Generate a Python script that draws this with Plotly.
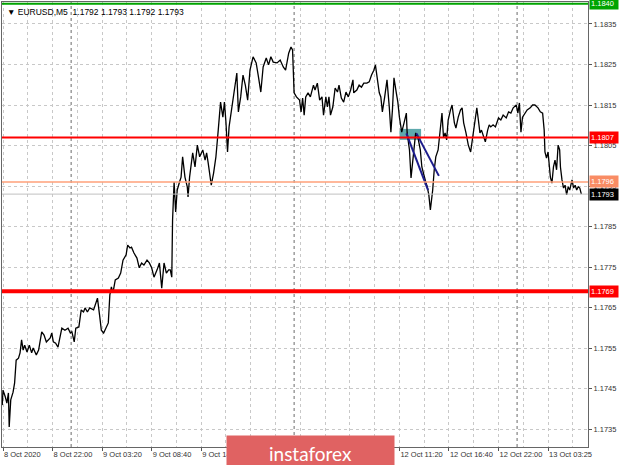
import plotly.graph_objects as go

# ---- data (M5 bar index, close price) ----
bars = [-1, 0, 3, 5, 7, 8, 10, 13, 15, 17, 20, 22, 24, 26, 28, 31, 34, 37, 39, 43, 46, 50, 53, 56, 61, 63, 65, 68, 71, 76,
        80, 84, 87, 89, 92, 94, 98, 101, 104, 106, 109, 112, 117, 122, 125, 127, 130, 133, 136,
        138, 140, 142, 145, 149, 152, 155, 159, 161, 164, 166, 169, 173, 176, 179, 182, 186, 189, 192, 195, 199, 202,
        205, 208, 211, 214, 216, 218, 219, 221, 223, 225, 228, 230, 232, 235, 238, 239, 241, 245, 248, 251, 254, 258,
        261, 263, 265, 269, 272, 275, 278, 281, 284, 286, 288, 290, 292, 295, 297, 300, 302, 304, 307, 310, 313, 316,
        319, 323, 327, 330, 333, 336, 340, 343, 346, 349, 354, 358, 362, 365, 369, 372, 374, 376, 379, 383, 385, 387,
        389, 391, 394, 397, 401, 403, 406, 409, 412, 414, 417, 419, 421, 423, 426, 429, 432, 434, 437, 440, 443, 446,
        449, 452, 453, 457, 460, 463, 466, 470, 473, 476, 479, 481, 483, 486, 488, 490, 493, 496, 499, 501, 503, 505,
        508, 510, 512, 515, 518, 521, 522, 525, 527, 529, 531, 533, 536, 539, 541, 544, 546, 548, 550, 552, 555, 557,
        559, 562, 564, 567, 569, 571, 573, 575, 578, 580, 583, 585, 588, 591, 593, 595, 598, 601, 604, 607, 610, 612,
        614, 616, 618, 621, 623, 626, 628, 630, 633, 636, 640, 643, 646, 650, 653, 656, 659, 663, 665, 667, 669, 671,
        674, 677, 681, 684, 687, 691, 694, 697, 699, 700, 702, 704, 707, 709, 711, 713, 715, 717, 719, 720, 722, 724,
        726, 728, 730, 732, 735, 737, 739, 741, 743, 745, 747]
closes = [1.17409, 1.17446, 1.17429, 1.17414, 1.17439, 1.17355, 1.17422, 1.17441, 1.17464, 1.17520, 1.17525, 1.17538,
          1.17570, 1.17545, 1.17557, 1.17540, 1.17557, 1.17538, 1.17550, 1.17533, 1.17545, 1.17590, 1.17582, 1.17565,
          1.17575, 1.17587, 1.17565, 1.17562, 1.17552, 1.17599, 1.17594, 1.17599, 1.17587, 1.17590, 1.17565, 1.17599,
          1.17602, 1.17644, 1.17639, 1.17649, 1.17639, 1.17649, 1.17644, 1.17673, 1.17627, 1.17594, 1.17587, 1.17599,
          1.17612,
          1.17681, 1.17701, 1.17686, 1.17718, 1.17723, 1.17735, 1.17767, 1.17780, 1.17804, 1.17797, 1.17799, 1.17785,
          1.17772, 1.17748, 1.17760, 1.17755, 1.17767, 1.17760, 1.17748, 1.17725, 1.17743, 1.17760, 1.17698, 1.17760,
          1.17735, 1.17743, 1.17743, 1.17725, 1.17866, 1.17960, 1.17886, 1.17940, 1.17960, 1.17972, 1.18022, 1.17972,
          1.17948, 1.17923, 1.17972, 1.18032, 1.17997, 1.18051, 1.18022, 1.18039, 1.18014, 1.18032, 1.18007, 1.17952,
          1.17982, 1.18022, 1.18088, 1.18157, 1.18120, 1.18157, 1.18106, 1.18034, 1.18096, 1.18138, 1.18170, 1.18204,
          1.18229, 1.18133, 1.18170, 1.18224, 1.18199, 1.18162, 1.18236, 1.18269, 1.18254, 1.18219, 1.18182, 1.18244,
          1.18266, 1.18249, 1.18269, 1.18256, 1.18254, 1.18261, 1.18244, 1.18236, 1.18278, 1.18293, 1.18286, 1.18180,
          1.18170, 1.18162, 1.18133, 1.18167, 1.18125, 1.18170, 1.18180, 1.18170, 1.18199, 1.18187, 1.18204, 1.18162,
          1.18170, 1.18125, 1.18170, 1.18145, 1.18170, 1.18125, 1.18145, 1.18192, 1.18182, 1.18199, 1.18167, 1.18157,
          1.18182, 1.18170, 1.18187, 1.18212, 1.18180, 1.18187, 1.18199, 1.18194, 1.18204, 1.18204, 1.18207, 1.18224,
          1.18236, 1.18249, 1.18219, 1.18180, 1.18170, 1.18133, 1.18170, 1.18212, 1.18143, 1.18083, 1.18138, 1.18217,
          1.18180, 1.18157, 1.18120, 1.18083, 1.18106, 1.18130, 1.18081, 1.18039, 1.17970, 1.18007, 1.18046, 1.18081,
          1.18069, 1.18039, 1.17997, 1.17972, 1.17960, 1.17948, 1.17928, 1.17891, 1.17940, 1.17990, 1.18022, 1.18039,
          1.18081, 1.18130, 1.18069, 1.18081, 1.18064, 1.18113, 1.18138, 1.18150, 1.18106, 1.18093, 1.18120, 1.18138,
          1.18143, 1.18106, 1.18081, 1.18051, 1.18034, 1.18071, 1.18120, 1.18143, 1.18113, 1.18081, 1.18088, 1.18071,
          1.18059, 1.18088, 1.18101, 1.18096, 1.18101, 1.18096, 1.18118, 1.18113, 1.18125, 1.18118, 1.18133, 1.18130,
          1.18143, 1.18150, 1.18130, 1.18155, 1.18083, 1.18120, 1.18130, 1.18138, 1.18143, 1.18150, 1.18150, 1.18143,
          1.18133, 1.18130, 1.18088, 1.18034, 1.18019, 1.18034, 1.17972, 1.17957, 1.17997, 1.18014, 1.17990, 1.18051,
          1.18039, 1.17997, 1.17965, 1.17945, 1.17952, 1.17928, 1.17948, 1.17940, 1.17965, 1.17945, 1.17952, 1.17940,
          1.17948, 1.17945, 1.17930]

time_tick_bars = [0, 64, 128, 192, 256, 320, 384, 448, 512, 576, 640, 704]
time_tick_labels = ["8 Oct 2020", "8 Oct 22:00", "9 Oct 03:20", "9 Oct 08:40", "9 Oct 14:00", "9 Oct 19:20",
                    "12 Oct 00:40", "12 Oct 06:00", "12 Oct 11:20", "12 Oct 16:40", "12 Oct 22:00", "13 Oct 03:25"]
day_separator_bars = [88, 376, 664]

level_prices = [1.1840, 1.1807, 1.1796, 1.1793, 1.1769]
level_colors = ["#00a400", "#ff0000", "#ffa07a", "#c0c0c0", "#ff0000"]
level_widths = [2, 2, 1.5, 1, 4]
label_bg = ["#00a400", "#ff0000", "#f98c64", "#000000", "#ff0000"]

zone_bars = [512, 540]
zone_prices = [1.18064, 1.18091]
trend_lines = [([521, 549], [1.18080, 1.17940]), ([534, 563], [1.18080, 1.17975])]

header = "\u25BC EURUSD,M5  1.1792 1.1793 1.1792 1.1793"
watermark = "instaforex"

# ---- figure ----
FONT = "Liberation Sans, Arial, sans-serif"
fig = go.Figure()

fig.add_trace(go.Scatter(x=bars, y=closes, mode="lines",
                         line=dict(color="#000000", width=1.3), hoverinfo="skip", showlegend=False))

for xs, ys in trend_lines:
    fig.add_trace(go.Scatter(x=xs, y=ys, mode="lines",
                             line=dict(color="#1c1c8c", width=2), hoverinfo="skip", showlegend=False))

fig.add_shape(type="rect", xref="x", yref="y", x0=zone_bars[0], x1=zone_bars[1],
              y0=zone_prices[0], y1=zone_prices[1], fillcolor="rgba(40,140,145,0.75)",
              line=dict(width=0), layer="below")

for b in day_separator_bars:
    fig.add_shape(type="line", xref="x", yref="paper", x0=b, x1=b, y0=0, y1=1,
                  line=dict(color="#6a6a6a", width=1, dash="dot"), layer="below")

for p, c, w in zip(level_prices, level_colors, level_widths):
    fig.add_shape(type="line", xref="paper", yref="y", x0=0, x1=1, y0=p, y1=p,
                  line=dict(color=c, width=w), layer="above")

for p, bg in zip(level_prices, label_bg):
    fig.add_annotation(xref="paper", yref="y", x=1, y=p, xanchor="left", yanchor="middle",
                       text=f"{p:.4f}", showarrow=False, bgcolor=bg, borderpad=1, xshift=1,
                       font=dict(family=FONT, size=7.5, color="#ffffff"), width=26, align="left")

fig.add_annotation(xref="paper", yref="paper", x=0, y=1, xanchor="left", yanchor="top",
                   xshift=3, yshift=-3, text=header, showarrow=False,
                   font=dict(family=FONT, size=8.5, color="#000000"))

fig.add_annotation(xref="paper", yref="paper", x=0.5256, y=-0.0135, xanchor="center", yanchor="middle",
                   text=watermark, showarrow=False, bgcolor="#e06262", width=165, height=32,
                   font=dict(family="Lato, Open Sans, sans-serif", size=19, color="#ffffff"))

fig.update_layout(
    width=620, height=465,
    margin=dict(l=2, r=32, t=2, b=18),
    paper_bgcolor="#ffffff", plot_bgcolor="#ffffff",
    showlegend=False,
    xaxis=dict(range=[-1.3, 755.6], tickmode="array", tickvals=time_tick_bars, ticktext=time_tick_labels,
               ticklabelposition="outside right", tickangle=0, ticks="outside", ticklen=3, tickcolor="#555555",
               tickfont=dict(family=FONT, size=7.5, color="#333333"),
               showgrid=True, gridcolor="#c8c8c8", griddash="dot", gridwidth=1,
               minor=dict(tickmode="linear", tick0=32, dtick=64, showgrid=True, gridcolor="#c8c8c8",
                          griddash="dot", ticks=""),
               showline=True, linecolor="#666666", linewidth=1, mirror=True, zeroline=False, fixedrange=True),
    yaxis=dict(range=[1.173056, 1.184043], side="right", tickmode="linear", tick0=1.1735, dtick=0.001,
               tickformat=".4f", ticks="outside", ticklen=3, tickcolor="#555555",
               tickfont=dict(family=FONT, size=7.5, color="#333333"),
               showgrid=True, gridcolor="#c8c8c8", griddash="dot", gridwidth=1,
               showline=True, linecolor="#666666", linewidth=1, mirror=True, zeroline=False, fixedrange=True),
)

fig.write_html("out.html", config={"displayModeBar": False},
               post_script="document.body.style.margin='0px';document.body.style.overflow='hidden';")
